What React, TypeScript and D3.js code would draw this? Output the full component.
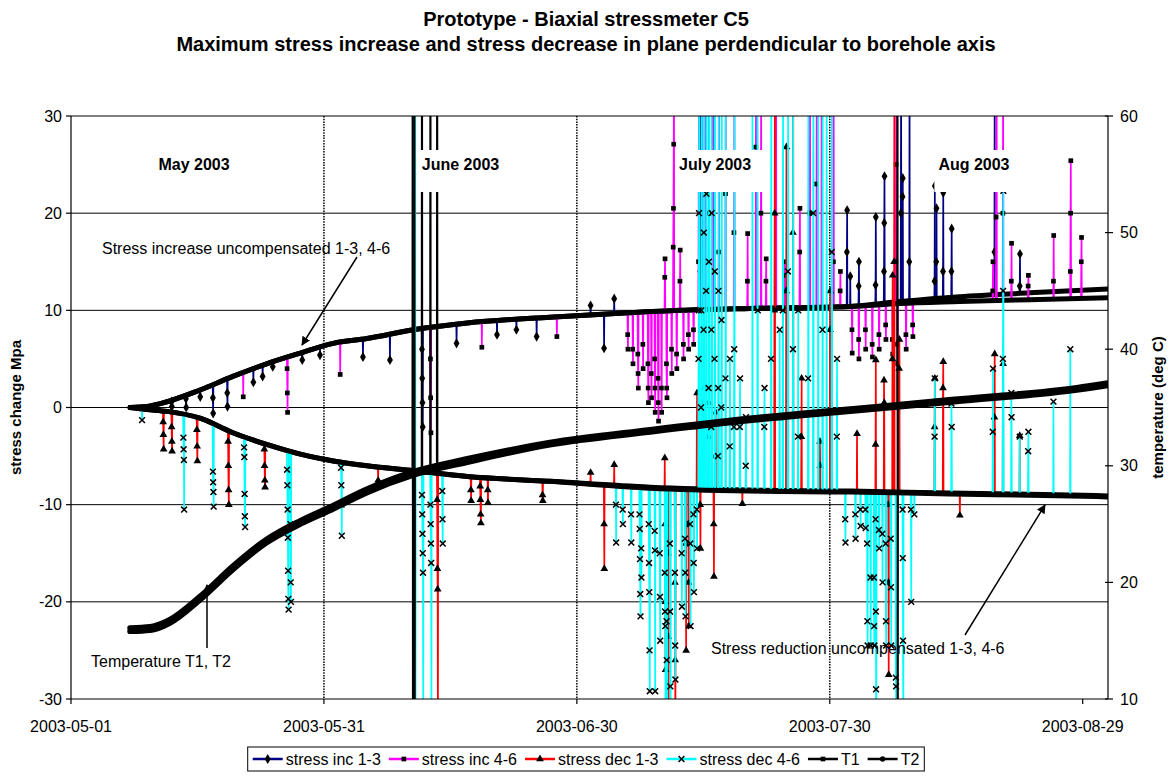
import React, { useEffect, useRef } from "react";
import * as d3 from "d3";

type Pt = [number, number];
type Spike = [number, number[]];

// ---------- axes / labels ----------
const startDate = "2003-05-01";
const endDate = "2003-09-01";
const xTickLabels = ["2003-05-01", "2003-05-31", "2003-06-30", "2003-07-30", "2003-08-29"];
const monthDividers = ["2003-05-31", "2003-06-30", "2003-07-30"];
const monthNames = ["May 2003", "June 2003", "July 2003", "Aug 2003"];
const monthNameDays = [14.6, 46.2, 76.4, 107.1];
const stressTicks = [-30, -20, -10, 0, 10, 20, 30];
const tempTicks = [10, 20, 30, 40, 50, 60];

const seriesNames = ["stress inc 1-3", "stress inc 4-6", "stress dec 1-3", "stress dec 4-6", "T1", "T2"];
const seriesColors = ["#000080", "#FF00FF", "#FF0000", "#00FFFF", "#000000", "#000000"];

// ---------- baseline readings [day since 2003-05-01, value] ----------
const inc13Base: Pt[] = [[7.0, 0], [9.0, 0.1], [10.6, 0.4], [15.3, 1.8], [19.2, 3.2], [23.2, 4.5], [27.2, 5.6], [31.1, 6.6], [35.1, 7.1], [40.6, 8.0], [47.0, 8.7], [56.8, 9.3], [65.1, 9.7], [72.2, 10.0], [80.5, 10.2], [92.4, 10.4], [98.3, 10.9], [105.4, 11.4], [113.7, 11.8], [123, 12.2]];
const inc46Base: Pt[] = [[7.0, 0], [9.0, 0.1], [10.6, 0.4], [15.3, 1.8], [19.2, 3.2], [23.2, 4.5], [27.2, 5.6], [31.1, 6.6], [35.1, 7.1], [40.6, 8.0], [47.0, 8.7], [56.8, 9.3], [65.1, 9.7], [72.2, 10.0], [80.5, 10.2], [92.4, 10.4], [98.3, 10.7], [105.4, 10.9], [113.7, 11.1], [123, 11.3]];
const dec13Base: Pt[] = [[7.0, 0], [9.0, -0.2], [11.4, -0.4], [15.3, -1.1], [19.2, -2.6], [23.2, -3.8], [27.2, -4.8], [31.1, -5.5], [35.1, -6.0], [40.6, -6.5], [47.0, -7.1], [56.8, -7.6], [68.7, -8.2], [80.5, -8.5], [92.4, -8.6], [104.2, -8.8], [118.5, -9.0], [123, -9.1]];
const dec46Base: Pt[] = [[7.0, 0], [9.0, -0.2], [11.4, -0.4], [15.3, -1.1], [19.2, -2.6], [23.2, -3.8], [27.2, -4.8], [31.1, -5.5], [35.1, -6.0], [40.6, -6.5], [47.0, -7.1], [56.8, -7.6], [68.7, -8.3], [80.5, -8.6], [92.4, -8.7], [104.2, -8.9], [118.5, -9.1], [123, -9.2]];
const t1Base: Pt[] = [[7.0, 16.1], [9.4, 16.2], [11.7, 16.8], [15.3, 18.8], [19.2, 21.4], [23.2, 23.7], [27.2, 25.3], [31.1, 26.6], [35.1, 28.0], [40.6, 29.5], [47.0, 30.6], [56.8, 32.0], [68.7, 33.1], [80.8, 34.1], [92.8, 34.9], [104.8, 35.7], [119.3, 36.7], [123, 37.1]];
const t2Base: Pt[] = [[7.0, 15.8], [9.4, 15.9], [11.7, 16.5], [15.3, 18.5], [19.2, 21.1], [23.2, 23.4], [27.2, 25.0], [31.1, 26.3], [35.1, 27.7], [40.6, 29.2], [47.0, 30.3], [56.8, 31.8], [68.7, 32.9], [80.8, 33.9], [92.8, 34.7], [104.8, 35.5], [119.3, 36.5], [123, 36.9]];

// ---------- excursions [day, consecutive readings] ----------
const inc13Spikes: Spike[] = [
  [11.9, [0.6, 0.1]], [13.6, [0.9, 0.0]], [15.3, [1.1]], [16.8, [1.0, -0.6]], [18.5, [1.5, 0.1]],
  [21.6, [2.6]], [22.7, [3.2]], [23.9, [4.2]], [27.4, [4.9]], [29.5, [5.4]], [34.6, [5.2]], [37.8, [4.9]],
  [41.6, [6.0, 3.0, 0.5, -2.0]], [45.7, [6.6]], [50.5, [7.5]], [52.8, [8.0]], [55.2, [7.3]],
  [61.6, [10.5]], [63.2, [6.1]], [64.4, [11.2]], [74.6, [14, 35]], [76.0, [20, 35]],
  [92.0, [16, 20.3]], [92.4, [13.5]], [93.4, [12.5, 15.0]], [95.4, [12.6, 19.6]], [96.4, [14, 19, 23.8]],
  [98.4, [20, 35]], [98.6, [21.7, 23.6]], [99.4, [15, 35]],
  [102.4, [13, 22.8]], [102.6, [15, 20.5]], [103.4, [14, 22.1]], [104.4, [14, 18.4]],
  [109.5, [16, 35]], [112.5, [12.5, 15.8]],
];
const inc46Spikes: Spike[] = [
  [20.4, [1.1]], [25.6, [4.0, 1.5, -0.5]], [31.9, [3.4]], [42.6, [5.0, 1.0, -2.6]], [48.7, [6.2]], [57.6, [7.3]],
  [66.0, [7.5, 6.0]], [66.6, [6.0, 4.5]], [67.2, [5.5, 3.5, 2.0]], [67.8, [6.5, 4.0]], [68.4, [4.5, 2.0, 0.5]],
  [68.8, [3.5, 1.0]], [69.2, [5.0, 2.0, -0.5]], [69.6, [3.0, 0.5, -1.4]], [70.0, [2.0, -0.5]], [70.6, [4.5, 2.0, 1.0]],
  [71.2, [6.0, 3.5]], [71.8, [5.5, 4.0]], [72.6, [6.5, 5.0]], [73.2, [7.5, 6.0]], [73.8, [8.0, 6.5]],
  [70.4, [13.4, 15.3]], [71.4, [16.5, 20.5, 27.1, 35]], [72.2, [13, 16.2]],
  [74.4, [15, 25, 35]], [74.8, [18, 35]], [75.2, [12, 22, 35]], [75.6, [20, 35]], [76.2, [14, 35]],
  [76.8, [16, 35]], [77.6, [22, 35]], [78.6, [18, 26, 35]], [80.2, [13, 17.9]], [81.2, [26.8, 35]],
  [81.8, [20, 35]], [82.4, [13, 15.3]], [83.6, [35]], [84.6, [13.6, 15]], [86.4, [16, 20.5]],
  [87.6, [20, 35]], [88.4, [23, 35]], [89.0, [35]], [90.4, [15, 35]], [91.2, [12, 14]],
  [92.6, [8.0, 5.6]], [93.4, [7.0, 5.0]], [94.2, [8.0, 6.0]], [95.0, [6.5, 5.2]], [95.8, [7.5, 6.0]],
  [96.6, [8.5, 7.0]], [97.4, [7.0, 5.5]], [97.8, [15, 25, 35]], [98.0, [6.5, 4.5]], [99.0, [7.5, 6.0]], [99.8, [8.5, 7.3]],
  [109.3, [12, 15.0]], [109.7, [19.6, 26, 35]], [110.5, [20, 35]], [111.5, [13, 16.9]], [113.5, [12.5, 13.6]],
  [116.5, [13, 17.7]], [118.5, [14, 20, 25.4]], [119.8, [15, 17.5]],
];
const dec13Spikes: Spike[] = [
  [10.9, [-1.5, -2.8, -4.3]], [11.9, [-2.0, -3.5, -4.5]], [14.9, [-2.3, -4.0, -5.5]], [18.6, [-3.5, -6.0, -8.5, -10.0]],
  [22.9, [-4.3, -6.0, -7.5, -8.2]], [36.4, [-7.5]], [43.4, [-9.5, -16.6, -18.7, -35]], [47.4, [-8.5, -9.6]],
  [48.5, [-8.1, -9.5, -11.0, -11.9]], [49.4, [-8.5, -9.8]], [55.9, [-9.0, -9.6]],
  [61.6, [-6.7]], [63.2, [-12, -16.6]], [64.4, [-5.9]], [70.4, [-5.2, -12, -20, -27]], [70.8, [-15, -23.6, -30.5]],
  [71.6, [-18, -26, -35]], [72.9, [-14, -25.0]], [73.2, [-12, -18, -22.5]], [74.2, [-2, 1.5]], [74.6, [-10, -14.5]],
  [75.0, [0.5, 2.0]], [75.6, [-3, 0.5]], [76.2, [-12, -17.4]], [76.4, [-5, -0.5]], [79.6, [-9.9]],
  [83.4, [10, 20, 35]], [84.8, [12, 26.8]], [85.6, [18, 35]], [86.6, [-3, 3]], [88.8, [-3.5, -6]], [90.0, [8, 12]],
  [93.2, [-2.7]], [95.4, [-3.8, 4.9]], [96.4, [2.8, 0.5]], [96.9, [-10, -18, -27.5]], [97.4, [5, 13.6]], [97.6, [15, 35]], [98.2, [4, 7]],
  [102.4, [-2, 3.0]], [103.4, [2, 4.7]], [105.4, [-11.1]], [109.5, [-1, 5.5]], [110.5, [1.3, 4.5]], [112.5, [-2.9]],
];
const dec46Spikes: Spike[] = [
  [8.4, [-1.3]], [13.3, [-3.1, -4.3, -5.4, -10.5]], [16.8, [-6.6, -7.7, -8.7, -10.2]],
  [20.5, [-4.1, -5.1, -8.9, -11.2, -12.3]], [25.6, [-6.4, -8.0, -10.5, -13.4, -16.8, -19.7, -20.8]],
  [26.0, [-12, -18, -20.0]], [32.0, [-6.2, -8.0, -10.0, -13.2]], [40.8, [40, -40]],
  [41.6, [-9, -11, -13, -15, -17, -35]], [42.6, [-10, -12, -14, -16, -35]], [44.0, [-8.6, -11.5, -14.0]],
  [64.6, [-10, -13.9]], [65.4, [-10.5, -12]], [66.4, [-11, -13.9]], [67.4, [-11, -12.5, -15.6, -19.2, -21.5]],
  [67.6, [-14.5, -17.5]], [68.5, [-12, -16, -19, -25.0, -29.2]], [69.2, [-12.7, -14.7, -29.2]],
  [69.8, [-15.0, -19.5, -24.0]], [70.4, [-17, -21, -22.5, -35]], [70.6, [-22, -26, -35]],
  [71.0, [-14, -21, -28.7, -35]], [71.6, [-17, -24.5, -28]], [72.4, [-15, -20.5]], [72.8, [-13.5, -17, -21.5]],
  [73.4, [-12, -14, -22.5]], [73.8, [-11, -16, -19]], [74.2, [-10.5, -14.5]],
  [74.4, [5, 10, 20, 35]], [74.7, [0, 10, 25, 35]], [75.0, [8, 18, 35]], [75.3, [12, 22, 35]], [75.6, [2, 15, 35]],
  [75.9, [-2, 8, 20, 35]], [76.3, [5, 14, 35]], [76.7, [-5, 2, 12, 35]], [77.1, [0, 9, 35]], [77.6, [3, 35]],
  [78.1, [-4, 5]], [78.6, [-2, 6, 35]], [79.3, [-2, 3]], [80.0, [-6, -1]], [80.8, [35]], [81.4, [35, 10]],
  [82.2, [-2, 2]], [83.0, [5, 35]], [84.0, [-1, 8]], [84.4, [10, 35]], [85.0, [14, 35]], [85.6, [6, 35]],
  [86.2, [-3, 10]], [87.4, [3, 35]], [88.0, [20, 35]], [88.6, [35]], [89.1, [8, 35]], [89.6, [35]],
  [90.2, [16, 35]], [90.8, [-3, 5]],
  [91.8, [-11.5, -13.9]], [93.0, [-11, -13.5]], [93.6, [-10.5, -12.2]], [94.2, [-10.5, -12.4]],
  [94.4, [-14, -22, -24.5]], [94.8, [-17.5, -24.5]], [95.2, [-17.5, -22.5, -24.5]], [95.4, [-11.5, -21, -29.0, -35]],
  [95.8, [-12.6, -14.5]], [96.2, [-13, -18.0]], [96.6, [-14, -22, -24.5]], [97.2, [-13.5, -18.5, -24.5]],
  [97.8, [-27.8, -28.7, -35]], [98.6, [-10.5, -15.5, -24.0, -35]], [99.6, [-10.5, -20.0]], [100.0, [-11]],
  [102.4, [-3, 3.0]], [104.4, [0.4, -2]], [109.3, [-2.5, 4]], [110.5, [5, 12, 22.3]], [111.5, [1.5, -1]],
  [112.5, [-3]], [113.5, [-4.5, -2.5]], [116.5, [0.6]], [118.5, [6.0]],
];
const t1Spikes: Spike[] = [[40.5, [75, 0]], [98.0, [75, 0]]];
const t2Spikes: Spike[] = [[40.7, [75, 0]], [41.6, [75]], [42.6, [75]], [43.4, [75]]];

const FONT = "'Liberation Sans', Arial, Helvetica, sans-serif";

export default function App() {
  const ref = useRef<SVGSVGElement>(null);

  useEffect(() => {
    const svg = d3.select(ref.current);
    svg.selectAll("*").remove();
    svg.attr("font-family", FONT);

    const parse = d3.utcParse("%Y-%m-%d");
    const t0 = parse(startDate) as Date;
    const dayToDate = (d: number) => new Date(t0.getTime() + d * 864e5);
    const x = d3.scaleUtc().domain([t0, parse(endDate) as Date]).range([71, 1108]);
    const xd = (d: number) => x(dayToDate(d));
    const yL = d3.scaleLinear().domain([-30, 30]).range([699, 116]);
    const yR = d3.scaleLinear().domain([10, 60]).range([699, 116]);
    const [x0, x1] = x.range();
    const [yb, yt] = yL.range();

    svg.append("rect").attr("width", 1171).attr("height", 783).attr("fill", "#fff");

    const defs = svg.append("defs");
    defs.append("clipPath").attr("id", "plotclip").append("rect")
      .attr("x", x0).attr("y", yt).attr("width", x1 - x0).attr("height", yb - yt);
    defs.append("marker").attr("id", "arrowhead").attr("viewBox", "0 0 10 10")
      .attr("refX", 9).attr("refY", 5).attr("markerWidth", 9).attr("markerHeight", 9)
      .attr("markerUnits", "userSpaceOnUse").attr("orient", "auto")
      .append("path").attr("d", "M0,0 L10,5 L0,10 z").attr("fill", "#000");

    // titles
    svg.append("text").attr("x", 586).attr("y", 26).attr("text-anchor", "middle")
      .attr("font-size", 20).attr("font-weight", "bold").text("Prototype - Biaxial stressmeter C5");
    svg.append("text").attr("x", 586).attr("y", 51).attr("text-anchor", "middle")
      .attr("font-size", 20).attr("font-weight", "bold")
      .text("Maximum stress increase and stress decrease in plane perdendicular to borehole axis");

    // gridlines
    const grid = svg.append("g");
    stressTicks.filter((v) => v > -30 && v < 30).forEach((v) => {
      grid.append("line").attr("x1", x0).attr("x2", x1).attr("y1", yL(v)).attr("y2", yL(v))
        .attr("stroke", "#000").attr("stroke-width", 1);
    });
    monthDividers.forEach((s) => {
      const px = x(parse(s) as Date);
      grid.append("line").attr("x1", px).attr("x2", px).attr("y1", yt).attr("y2", yb)
        .attr("stroke", "#000").attr("stroke-width", 1.5).attr("stroke-dasharray", "1.5,1.2");
    });

    const plot = svg.append("g").attr("clip-path", "url(#plotclip)");

    const symbolTypes = [d3.symbolDiamond, d3.symbolSquare, d3.symbolTriangle, d3.symbolTimes, d3.symbolSquare, d3.symbolCircle];
    const symbolSizes = [30, 22, 26, 24, 22, 22];

    const series = [
      { base: inc13Base, spikes: inc13Spikes, y: yL, bw: 5 },
      { base: inc46Base, spikes: inc46Spikes, y: yL, bw: 5 },
      { base: dec13Base, spikes: dec13Spikes, y: yL, bw: 5 },
      { base: dec46Base, spikes: dec46Spikes, y: yL, bw: 5 },
      { base: t1Base, spikes: t1Spikes, y: yR, bw: 5.5 },
      { base: t2Base, spikes: t2Spikes, y: yR, bw: 5.5 },
    ];
    const dt = 0.03;

    series.forEach((s, i) => {
      const g = plot.append("g");
      const baseAt = d3.scaleLinear().domain(s.base.map((p) => p[0])).range(s.base.map((p) => p[1]));
      const line = d3.line<Pt>().x((p) => xd(p[0])).y((p) => s.y(p[1]));
      s.spikes.forEach(([d, vals]) => {
        const b = baseAt(d);
        const pts: Pt[] = [[d, b], ...vals.map((v, k) => [d + (k + 1) * dt, v] as Pt), [d + (vals.length + 1) * dt, b]];
        g.append("path").attr("d", line(pts) as string).attr("fill", "none")
          .attr("stroke", seriesColors[i]).attr("stroke-width", i >= 4 ? 2 : 1.7);
      });
      const baseLine = d3.line<Pt>().x((p) => xd(p[0])).y((p) => s.y(p[1])).curve(d3.curveMonotoneX);
      g.append("path").attr("d", baseLine(s.base) as string).attr("fill", "none")
        .attr("stroke", "#000").attr("stroke-width", s.bw).attr("stroke-linecap", "round");
      const sym = d3.symbol().type(symbolTypes[i]).size(symbolSizes[i]);
      s.spikes.forEach(([d, vals]) => {
        vals.forEach((v, k) => {
          const p = g.append("path").attr("d", sym() as string)
            .attr("transform", `translate(${xd(d + (k + 1) * dt)},${s.y(v)})`);
          if (i === 3) p.attr("fill", "none").attr("stroke", "#000").attr("stroke-width", 1.5);
          else p.attr("fill", "#000");
        });
      });
    });

    // month labels with white boxes
    monthNames.forEach((m, k) => {
      const cx = xd(monthNameDays[k]);
      const t = svg.append("text").attr("x", cx).attr("y", 170).attr("text-anchor", "middle")
        .attr("font-size", 16).attr("font-weight", "bold").text(m);
      const w = (t.node() as SVGTextElement).getComputedTextLength();
      svg.insert("rect", () => t.node() as any)
        .attr("x", cx - w / 2 - 4).attr("y", 150).attr("width", w + 16).attr("height", 42).attr("fill", "#fff");
    });

    // frame & axes
    const ax = svg.append("g").attr("stroke", "#000").attr("stroke-width", 1.2);
    ax.append("line").attr("x1", x0).attr("x2", x1).attr("y1", yt).attr("y2", yt);
    ax.append("line").attr("x1", x0).attr("x2", x1).attr("y1", yb).attr("y2", yb);
    ax.append("line").attr("x1", x0).attr("x2", x0).attr("y1", yt).attr("y2", yb);
    ax.append("line").attr("x1", x1).attr("x2", x1).attr("y1", yt).attr("y2", yb);
    stressTicks.forEach((v) => {
      ax.append("line").attr("x1", x0 - 5).attr("x2", x0).attr("y1", yL(v)).attr("y2", yL(v));
      svg.append("text").attr("x", x0 - 9).attr("y", yL(v)).attr("dy", "0.35em").attr("text-anchor", "end")
        .attr("font-size", 16).text(String(v));
    });
    tempTicks.forEach((v) => {
      ax.append("line").attr("x1", x1 - 3).attr("x2", x1 + 5).attr("y1", yR(v)).attr("y2", yR(v));
      svg.append("text").attr("x", x1 + 12).attr("y", yR(v)).attr("dy", "0.35em").attr("text-anchor", "start")
        .attr("font-size", 16).text(String(v));
    });
    xTickLabels.forEach((s) => {
      const px = x(parse(s) as Date);
      ax.append("line").attr("x1", px).attr("x2", px).attr("y1", yb).attr("y2", yb + 5);
      svg.append("text").attr("x", px).attr("y", 732).attr("text-anchor", "middle").attr("font-size", 16).text(s);
    });
    svg.append("text").attr("transform", `translate(21,${(yt + yb) / 2}) rotate(-90)`).attr("text-anchor", "middle")
      .attr("font-size", 15).attr("font-weight", "bold").text("stress change Mpa");
    svg.append("text").attr("transform", `translate(1163,${(yt + yb) / 2}) rotate(-90)`).attr("text-anchor", "middle")
      .attr("font-size", 15).attr("font-weight", "bold").text("temperature (deg C)");

    // annotations
    const ann = svg.append("g").attr("font-size", 16);
    ann.append("text").attr("x", 102).attr("y", 254).text("Stress increase uncompensated 1-3, 4-6");
    ann.append("line").attr("x1", 357).attr("y1", 257).attr("x2", 302).attr("y2", 345)
      .attr("stroke", "#000").attr("stroke-width", 1.5).attr("marker-end", "url(#arrowhead)");
    ann.append("text").attr("x", 91).attr("y", 667).text("Temperature T1, T2");
    ann.append("line").attr("x1", 207).attr("y1", 648).attr("x2", 207).attr("y2", 585)
      .attr("stroke", "#000").attr("stroke-width", 1.5).attr("marker-end", "url(#arrowhead)");
    ann.append("text").attr("x", 711).attr("y", 654).text("Stress reduction uncompensated 1-3, 4-6");
    ann.append("line").attr("x1", 965).attr("y1", 635).attr("x2", 1045).attr("y2", 505)
      .attr("stroke", "#000").attr("stroke-width", 1.5).attr("marker-end", "url(#arrowhead)");

    // legend
    const lg = svg.append("g");
    const items = lg.append("g");
    let cx = 0;
    seriesNames.forEach((name, i) => {
      const it = items.append("g").attr("transform", `translate(${cx},0)`);
      it.append("line").attr("x1", 0).attr("x2", 30).attr("y1", 0).attr("y2", 0)
        .attr("stroke", seriesColors[i]).attr("stroke-width", 2.5);
      const sym = d3.symbol().type(symbolTypes[i]).size(symbolSizes[i]);
      const p = it.append("path").attr("d", sym() as string).attr("transform", "translate(15,0)");
      if (i === 3) p.attr("fill", "none").attr("stroke", "#000").attr("stroke-width", 1.5);
      else p.attr("fill", "#000");
      const t = it.append("text").attr("x", 33).attr("y", 0).attr("dy", "0.35em").attr("font-size", 16).text(name);
      cx += 33 + (t.node() as SVGTextElement).getComputedTextLength() + 8;
    });
    const totalW = cx - 8;
    const lx = 586 - totalW / 2;
    const ly = 759;
    items.attr("transform", `translate(${lx},${ly})`);
    lg.insert("rect", () => items.node() as any).attr("x", lx - 5).attr("y", ly - 12).attr("width", totalW + 10)
      .attr("height", 24).attr("fill", "#fff").attr("stroke", "#000").attr("stroke-width", 1);
  }, []);

  return (
    <svg ref={ref} width={1171} height={783}
      style={{ position: "absolute", left: 0, top: 0, display: "block", background: "#fff" }} />
  );
}
